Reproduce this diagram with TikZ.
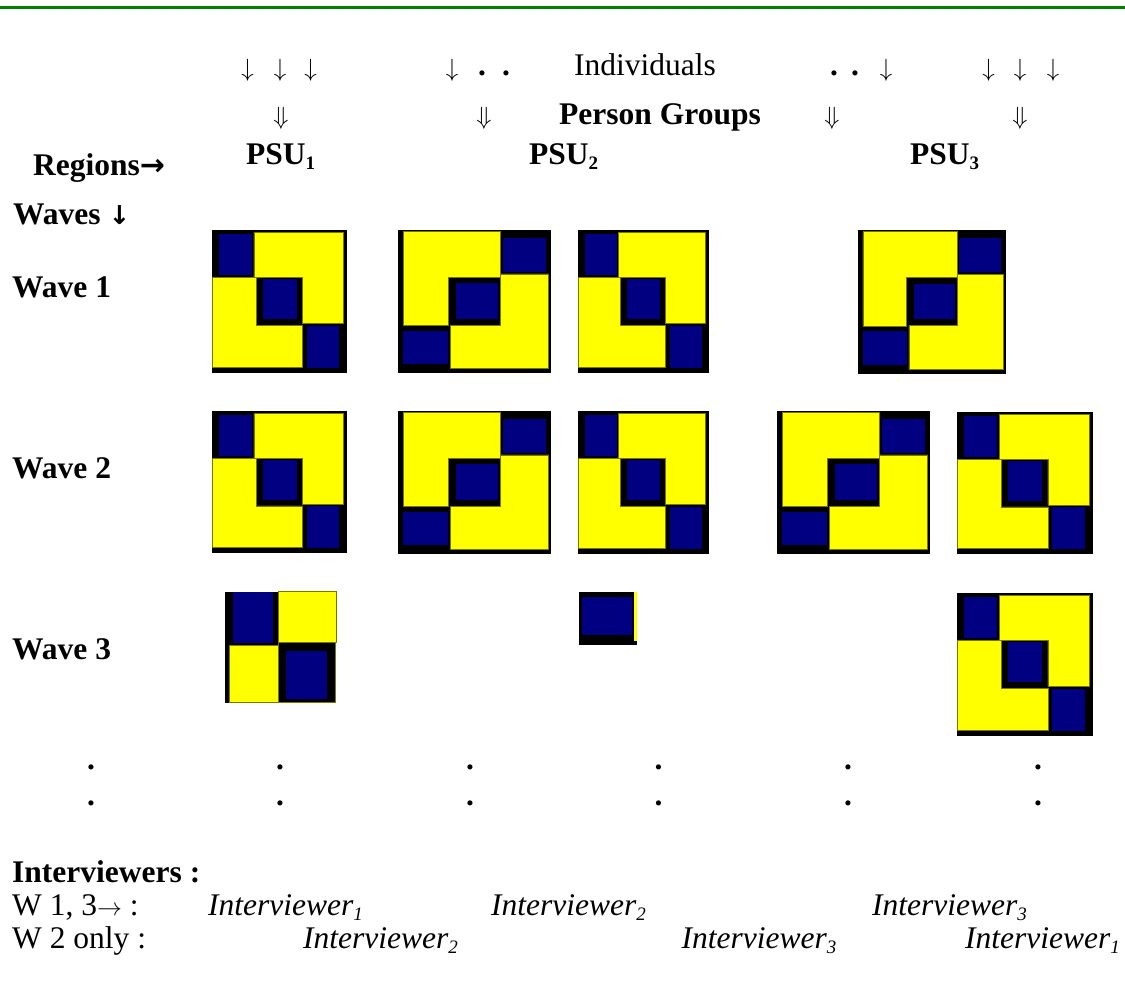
\documentclass[tikz,border=0pt]{standalone}
\usepackage{fontspec}
\setmainfont{Liberation Serif}
\newfontfamily\arrowfont{DejaVu Sans}
\definecolor{rulegreen}{RGB}{0,128,0}
\definecolor{cellnavy}{RGB}{0,0,128}
\definecolor{cellyellow}{RGB}{255,255,0}
\definecolor{celledge}{RGB}{120,120,0}
\tikzset{
  lbl/.style={inner sep=0pt, anchor=base west, font=\fontsize{31.5}{36}\selectfont},
  blbl/.style={lbl, font=\fontsize{31.5}{36}\selectfont\bfseries},
  ilbl/.style={lbl, font=\fontsize{31.5}{36}\selectfont\itshape},
  arr/.style={lbl, font=\fontsize{36}{40}\selectfont},
  mid/.style={anchor=base},
  yel/.style={fill=cellyellow, draw=celledge, line width=0.7pt},
  navy/.style={fill=cellnavy}
}
% small lowered index after a word
\newcommand\idx[1]{\raisebox{-0.16em}{\fontsize{19}{19}\selectfont #1}}
% block pattern with navy cells on the main diagonal
\newcommand\blockdiag[4]{%
  \begin{scope}[shift={(#1,#2)}, x=#3pt, y=-#4pt]
    \fill[black] (0,0) rectangle (1,1);
    \filldraw[yel] (0.311,0.016) -- (0.973,0.016) -- (0.973,0.654) -- (0.669,0.654)
      -- (0.669,0.331) -- (0.311,0.331) -- cycle;
    \filldraw[yel] (0.005,0.331) -- (0.326,0.331) -- (0.326,0.668) -- (0.669,0.668)
      -- (0.669,0.963) -- (0.005,0.963) -- cycle;
    \fill[navy] (0.054,0.028) rectangle (0.294,0.315);
    \fill[navy] (0.376,0.346) rectangle (0.627,0.624);
    \fill[navy] (0.701,0.668) rectangle (0.943,0.963);
  \end{scope}}
% block pattern with navy cells on the anti-diagonal
\newcommand\blockanti[4]{%
  \begin{scope}[shift={(#1,#2)}, x=#3pt, y=-#4pt]
    \fill[black] (0,0) rectangle (1,1);
    \filldraw[yel] (0.033,0.012) -- (0.672,0.012) -- (0.672,0.330) -- (0.328,0.330)
      -- (0.328,0.670) -- (0.033,0.670) -- cycle;
    \filldraw[yel] (0.672,0.307) -- (0.984,0.307) -- (0.984,0.970) -- (0.344,0.970)
      -- (0.344,0.665) -- (0.672,0.665) -- cycle;
    \fill[navy] (0.685,0.058) rectangle (0.969,0.291);
    \fill[navy] (0.381,0.372) rectangle (0.654,0.621);
    \fill[navy] (0.033,0.703) rectangle (0.328,0.935);
  \end{scope}}
\begin{document}
\begin{tikzpicture}[x=1pt, y=-1pt]
  \useasboundingbox (0,0) rectangle (1125,996);
  % top rule
  \draw[rulegreen, line width=3pt] (0,7.5) -- (1125,7.5);

  % individuals row
  \foreach \px/\nm in {247.5/a1, 280/a2, 310.6/a3, 452/a4, 886/a5, 988.5/a6, 1020/a7, 1053/a8}
    \node[arr, mid] (ind\nm) at (\px,76) {$\downarrow$};
  \foreach \px/\nm in {482/d1, 506/d2, 834/d3, 855/d4}
    \node[blbl, mid] (inddot\nm) at (\px,75) {.};
  \node[lbl, mid] (individuals) at (645,75) {Individuals};

  % person groups row
  \foreach \px/\nm in {281/g1, 484/g2, 832/g3, 1020/g4}
    \node[lbl, mid] (grp\nm) at (\px,124) {$\Downarrow$};
  \node[blbl, mid] (persongroups) at (660,124) {Person Groups};

  % primary sampling units
  \node[blbl] (psu1) at (246,164) {PSU\idx{1}};
  \node[blbl] (psu2) at (529,164) {PSU\idx{2}};
  \node[blbl] (psu3) at (910,164) {PSU\idx{3}};

  % axis labels
  \node[blbl] (regions) at (33,175) {Regions{\arrowfont\fontsize{30}{32}\selectfont\bfseries →}};
  \node[blbl] (waves) at (13,224) {Waves {\arrowfont\fontsize{26}{28}\selectfont\bfseries ↓}};
  \node[blbl] (wave1) at (12,297) {Wave 1};
  \node[blbl] (wave2) at (12,478) {Wave 2};
  \node[blbl] (wave3) at (12,659) {Wave 3};

  % wave 1
  \blockdiag{212}{230}{135}{143}
  \blockanti{398}{230}{153}{143}
  \blockdiag{578}{230}{131}{143}
  \blockanti{858}{230}{148}{144}
  % wave 2
  \blockdiag{212}{411}{135}{142}
  \blockanti{398}{411}{153}{143}
  \blockdiag{578}{411}{131}{143}
  \blockanti{777}{411}{153}{143}
  \blockdiag{957}{412}{136}{142}
  % wave 3
  \fill[black] (225,591.7) rectangle (335,702.7);
  \fill[navy] (233.3,591.7) rectangle (273.3,642.7);
  \filldraw[yel] (278.3,591.7) rectangle (336,642.7);
  \filldraw[yel] (229.3,645) rectangle (278.3,702.7);
  \draw[celledge, line width=0.7pt] (278.3,642.7) -- (335.5,642.7) -- (335.5,702.7) -- (278.3,702.7) -- cycle;
  \fill[navy] (286,650.7) rectangle (327.3,699);
  \fill[black] (579,591.7) rectangle (636.7,645);
  \fill[navy] (581.7,597.3) rectangle (632.3,635);
  \fill[cellyellow] (634.3,591.7) rectangle (636.7,640.7);
  \blockdiag{957}{593}{136}{143}

  % continuation dots
  \foreach \px [count=\i] in {91, 280, 470, 658.5, 848, 1038} {
    \node[blbl, mid] (vdotA\i) at (\px,769) {.};
    \node[blbl, mid] (vdotB\i) at (\px,805) {.};
  }

  % interviewer assignment
  \node[blbl] (interviewers) at (12,882) {Interviewers :};
  \node[lbl] (w13) at (12,915) {W 1, 3$\rightarrow$ :};
  \node[lbl] (w2) at (12,948) {W 2 only :};
  \node[ilbl] (r1i1) at (208,915) {Interviewer\idx{1}};
  \node[ilbl] (r1i2) at (491,915) {Interviewer\idx{2}};
  \node[ilbl] (r1i3) at (872,915) {Interviewer\idx{3}};
  \node[ilbl] (r2i2) at (303,948) {Interviewer\idx{2}};
  \node[ilbl] (r2i3) at (681.5,948) {Interviewer\idx{3}};
  \node[ilbl] (r2i1) at (965,948) {Interviewer\idx{1}};
\end{tikzpicture}
\end{document}
